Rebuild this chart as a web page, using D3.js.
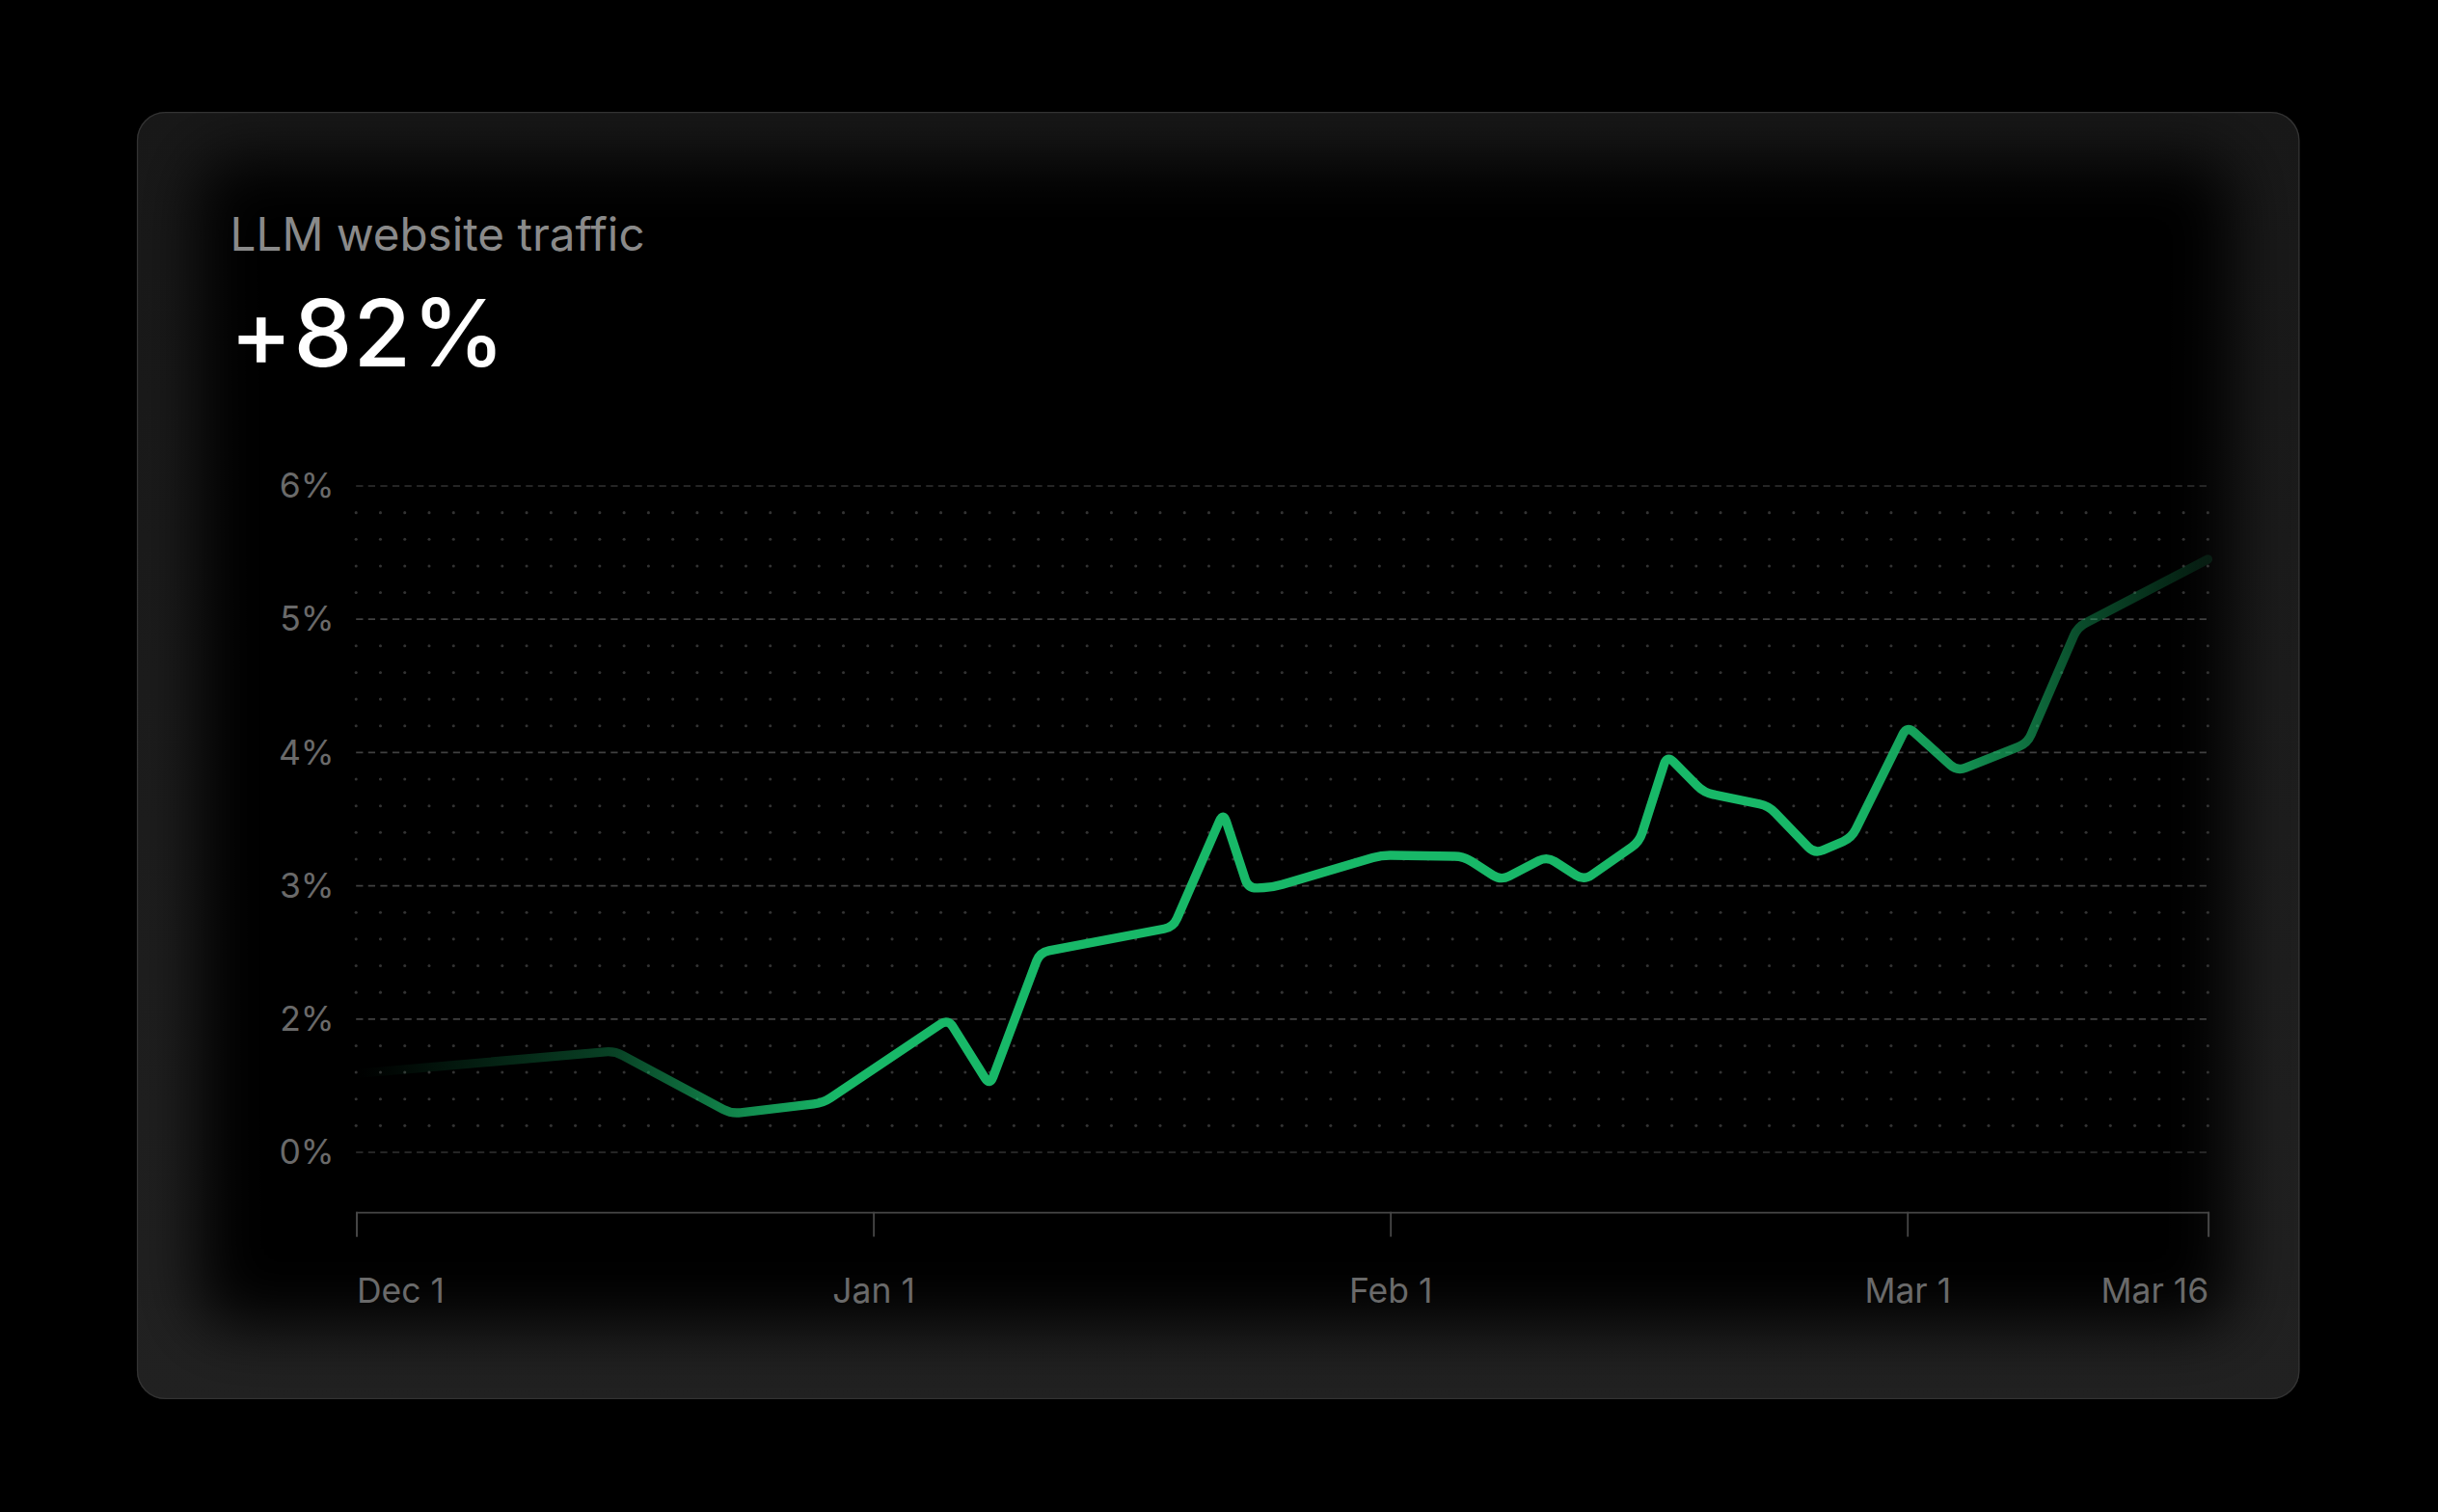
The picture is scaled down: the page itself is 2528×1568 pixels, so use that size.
<!DOCTYPE html>
<html>
<head>
<meta charset="utf-8">
<script src="https://cdn.jsdelivr.net/npm/d3@7"></script>
<style>
  html, body { margin: 0; padding: 0; background: #000; overflow: hidden; }
  svg { display: block; }
  text { font-family: Inter, "Noto Sans", sans-serif; }
</style>
</head>
<body>
<svg id="chart"></svg>
<script>
// ---------------- data ----------------
const title = "LLM website traffic";
const headline = "+82%";

const pointDates = [
  "2024-12-01T00:00", "2024-12-16T12:00", "2024-12-23T12:00", "2024-12-29T00:00",
  "2025-01-05T12:00", "2025-01-08T00:00", "2025-01-11T00:00", "2025-01-19T00:00",
  "2025-01-22T00:00", "2025-01-23T12:00", "2025-01-25T00:00", "2025-01-31T12:00",
  "2025-02-05T00:00", "2025-02-07T00:00", "2025-02-09T12:00", "2025-02-11T12:00",
  "2025-02-14T12:00", "2025-02-16T00:00", "2025-02-18T00:00", "2025-02-21T12:00",
  "2025-02-24T00:00", "2025-02-26T00:00", "2025-03-01T00:00", "2025-03-03T12:00",
  "2025-03-07T00:00", "2025-03-09T12:00", "2025-03-16T00:00"
];
const pointValues = [
  1.59, 1.76, 1.29, 1.37,
  2.00, 1.50, 2.50, 2.69,
  3.55, 2.98, 2.99, 3.23,
  3.22, 3.04, 3.22, 3.04,
  3.33, 3.98, 3.70, 3.60,
  3.24, 3.36, 4.20, 3.86,
  4.07, 4.94, 5.45
];

const xTickDates  = ["2024-12-01", "2025-01-01", "2025-02-01", "2025-03-01", "2025-03-16"];
const xTickLabels = ["Dec 1", "Jan 1", "Feb 1", "Mar 1", "Mar 16"];
const yTickValues = [1, 2, 3, 4, 5, 6];
const yTickLabels = ["0%", "2%", "3%", "4%", "5%", "6%"];

// ---------------- layout ----------------
const W = 1568, H = 1568 * 1568 / 2528;   // design units (viewBox)
const svg = d3.select("#chart")
  .attr("width", 2528).attr("height", 1568)
  .attr("viewBox", `0 0 ${W} ${H}`);

const card = { x: 88, y: 72, w: 1391, h: 828, r: 18 };
const plot = { left: 229, right: 1420, top: 312.6, bottom: 741.2 };
const monthW = 332.5;
const axisY = 779.5;
const cornerR = 6;

const parse = d3.isoParse;
const data = pointDates.map((d, i) => ({ date: parse(d), v: pointValues[i] }));
const tickDates = xTickDates.map(d => parse(d));

// piecewise time scale (each month shown with equal width, last half month to the edge)
const x = d3.scaleTime()
  .domain(tickDates)
  .range([plot.left, plot.left + monthW, plot.left + 2 * monthW, plot.left + 3 * monthW, plot.right]);
const y = d3.scaleLinear().domain([1, 6]).range([plot.bottom, plot.top]);

// custom d3 curve: straight segments with softly rounded corners
function curveRounded(context) {
  let pts = [];
  return {
    areaStart() {}, areaEnd() {},
    lineStart() { pts = []; },
    point(px, py) { pts.push([+px, +py]); },
    lineEnd() {
      if (!pts.length) return;
      context.moveTo(pts[0][0], pts[0][1]);
      for (let i = 1; i < pts.length - 1; i++) {
        const [x0, y0] = pts[i - 1], [x1, y1] = pts[i], [x2, y2] = pts[i + 1];
        const l1 = Math.hypot(x1 - x0, y1 - y0), l2 = Math.hypot(x2 - x1, y2 - y1);
        const r = Math.min(cornerR, l1 / 2, l2 / 2);
        const ax = x1 - (x1 - x0) / l1 * r, ay = y1 - (y1 - y0) / l1 * r;
        const bx = x1 + (x2 - x1) / l2 * r, by = y1 + (y2 - y1) / l2 * r;
        context.lineTo(ax, ay);
        context.quadraticCurveTo(x1, y1, bx, by);
      }
      const last = pts[pts.length - 1];
      context.lineTo(last[0], last[1]);
    }
  };
}

const defs = svg.append("defs");

// card glow
const blur = defs.append("filter").attr("id", "innerBlur")
  .attr("x", "-20%").attr("y", "-20%").attr("width", "140%").attr("height", "140%");
blur.append("feGaussianBlur").attr("stdDeviation", 20);
defs.append("clipPath").attr("id", "cardClip")
  .append("rect").attr("x", card.x).attr("y", card.y).attr("width", card.w).attr("height", card.h)
  .attr("rx", card.r);
const cardGrad = defs.append("linearGradient").attr("id", "cardGrad")
  .attr("x1", 0).attr("x2", 0).attr("y1", 0).attr("y2", 1);
cardGrad.append("stop").attr("offset", 0).attr("stop-color", "#181818");
cardGrad.append("stop").attr("offset", 1).attr("stop-color", "#212121");

// line gradient
const lg = defs.append("linearGradient").attr("id", "lineGrad")
  .attr("gradientUnits", "userSpaceOnUse")
  .attr("x1", plot.left).attr("x2", plot.right).attr("y1", 0).attr("y2", 0);
[[0, 0], [0.02, 0.04], [0.14, 0.36], [0.2, 0.7], [0.26, 1], [0.8, 1],
 [0.86, 0.82], [0.9, 0.62], [0.93, 0.42], [1, 0.13]].forEach(([o, a]) =>
  lg.append("stop").attr("offset", o).attr("stop-color", "#18b868").attr("stop-opacity", a));

// background
svg.append("rect").attr("width", W).attr("height", H).attr("fill", "#000");

// card
const cg = svg.append("g").attr("clip-path", "url(#cardClip)");
cg.append("rect").attr("x", card.x).attr("y", card.y).attr("width", card.w).attr("height", card.h)
  .attr("fill", "url(#cardGrad)");
cg.append("rect").attr("x", card.x + 40).attr("y", card.y + 30)
  .attr("width", card.w - 40 - 44).attr("height", card.h - 30 - 48)
  .attr("rx", 20).attr("fill", "#000").attr("filter", "url(#innerBlur)");
svg.append("rect").attr("x", card.x + 0.4).attr("y", card.y + 0.4)
  .attr("width", card.w - 0.8).attr("height", card.h - 0.8).attr("rx", card.r)
  .attr("fill", "none").attr("stroke", "#333333").attr("stroke-width", 0.8);

// titles
svg.append("text").attr("x", 148).attr("y", 161)
  .attr("font-size", 29.5).attr("fill", "#8a8a8a").text(title);
svg.append("text").attr("x", 148).attr("y", 236)
  .attr("font-size", 60).attr("font-weight", 500).attr("fill", "#ffffff")
  .attr("letter-spacing", 0.8).text(headline);

// dot grid
const cols = 76, rowsPer = 5;
const dotXs = d3.range(cols + 1).map(i => plot.left + (plot.right - plot.left) * i / cols);
const dotYs = [];
for (let t = 0; t < yTickValues.length - 1; t++) {
  for (let k = 1; k < rowsPer; k++) dotYs.push(yTickValues[t] + k / rowsPer);
}
const dots = svg.append("g").attr("fill", "#333333");
dotYs.forEach(v => {
  dots.selectAll(null).data(dotXs).join("circle")
    .attr("cx", d => d).attr("cy", y(v)).attr("r", 0.95);
});

// y gridlines + labels
const yAxis = d3.axisLeft(y).tickValues(yTickValues)
  .tickFormat((d, i) => yTickLabels[i]).tickSize(0).tickPadding(14);
const ya = svg.append("g").attr("transform", `translate(${plot.left},0)`).call(yAxis);
ya.select(".domain").remove();
ya.selectAll("text").attr("fill", "#6a6a6a").attr("font-size", 22)
  .attr("font-family", "Inter, sans-serif");
svg.append("g").selectAll("line").data(yTickValues).join("line")
  .attr("x1", plot.left).attr("x2", plot.right)
  .attr("y1", d => y(d)).attr("y2", d => y(d))
  .attr("stroke", (d, i) => (i === 0 || i === yTickValues.length - 1) ? "#323232" : "#404040")
  .attr("stroke-width", (d, i) => (i === 0 || i === yTickValues.length - 1) ? 0.9 : 1.1)
  .attr("stroke-dasharray", "4.5 3.3");

// x axis
const xAxis = d3.axisBottom(x).tickValues(tickDates)
  .tickFormat((d, i) => xTickLabels[i]).tickSize(16).tickSizeOuter(16).tickPadding(27);
const xa = svg.append("g").attr("transform", `translate(0,${axisY})`).call(xAxis);
xa.select(".domain").attr("stroke", "#474747").attr("stroke-width", 1.1);
xa.selectAll(".tick line").attr("stroke", "#474747").attr("stroke-width", 1.1);
xa.selectAll("text").attr("fill", "#6a6a6a").attr("font-size", 22)
  .attr("font-family", "Inter, sans-serif")
  .attr("text-anchor", (d, i) => i === 0 ? "start" : (i === tickDates.length - 1 ? "end" : "middle"));

// line
const line = d3.line().x(d => x(d.date)).y(d => y(d.v)).curve(curveRounded);
svg.append("path").datum(data)
  .attr("d", line)
  .attr("fill", "none")
  .attr("stroke", "url(#lineGrad)")
  .attr("stroke-width", 5.8)
  .attr("stroke-linejoin", "round")
  .attr("stroke-linecap", "round");
</script>
</body>
</html>
